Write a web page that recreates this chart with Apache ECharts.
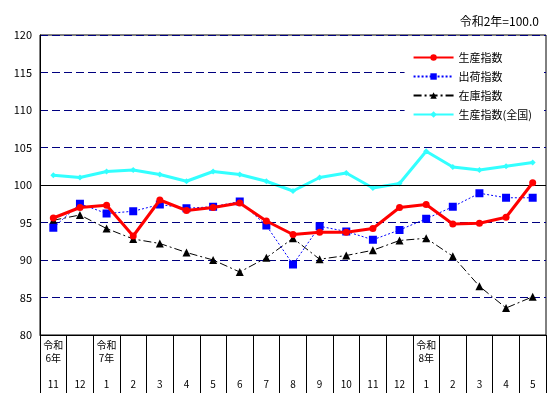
<!DOCTYPE html>
<html><head><meta charset="utf-8">
<script src="https://cdn.jsdelivr.net/npm/echarts@6/dist/echarts.min.js"></script>
<style>html,body{margin:0;padding:0;background:#fff}#c{width:550px;height:405px}</style>
</head><body><div id="c"></div>
<script>
const months = ['11', '12', '1', '2', '3', '4', '5', '6', '7', '8', '9', '10', '11', '12', '1', '2', '3', '4', '5'];
const yearLabels = {0: '令和\n6年', 2: '令和\n7年', 14: '令和\n8年'};
const production = [95.6, 97, 97.3, 93.2, 98, 96.6, 97, 97.6, 95.2, 93.4, 93.7, 93.7, 94.2, 97, 97.4, 94.8, 94.9, 95.7, 100.3];
const shipment = [94.3, 97.5, 96.2, 96.5, 97.4, 96.9, 97.1, 97.8, 94.6, 89.4, 94.5, 93.8, 92.7, 94, 95.5, 97.1, 98.9, 98.3, 98.3];
const inventory = [95.3, 96, 94.2, 92.8, 92.2, 91, 90, 88.4, 90.3, 92.9, 90.1, 90.6, 91.3, 92.6, 92.9, 90.5, 86.5, 83.6, 85.1];
const national = [101.3, 101, 101.8, 102, 101.4, 100.5, 101.8, 101.4, 100.5, 99.2, 101, 101.6, 99.6, 100.2, 104.5, 102.4, 102, 102.5, 103];

const chart = echarts.init(document.getElementById('c'));
const font = '"Noto Sans CJK JP", sans-serif';
chart.setOption({
  animation: false,
  textStyle: {fontFamily: font},
  title: {text: '令和2年=100.0', right: 6, top: 10, textStyle: {fontSize: 12, fontWeight: 'normal', color: '#000', fontFamily: font}},
  grid: {left: 40, right: 4, top: 35, bottom: 70, show: true, borderColor: '#000', borderWidth: 1},
  legend: {
    orient: 'vertical', right: 10, top: 48, itemWidth: 40, itemHeight: 8, itemGap: 8,
    backgroundColor: '#fff', padding: [4, 8], textStyle: {fontSize: 11, color: '#000'},
    data: ['生産指数', '出荷指数', '在庫指数', '生産指数(全国)']
  },
  xAxis: {
    type: 'category', data: months, boundaryGap: true,
    axisLine: {lineStyle: {color: '#000'}},
    axisTick: {show: true, interval: 0, length: 58, lineStyle: {color: '#000'}},
    axisLabel: {
      interval: 0, margin: 4, color: '#000', fontSize: 10, lineHeight: 13,
      formatter: (v, i) => (yearLabels[i] || '\n') + '\n\n' + v
    }
  },
  yAxis: {
    type: 'value', min: 80, max: 120, interval: 5,
    axisLine: {show: true, lineStyle: {color: '#000'}},
    axisTick: {show: false},
    axisLabel: {color: '#000', fontSize: 11, margin: 8},
    splitLine: {lineStyle: {color: '#000080', type: [8, 4]}}
  },
  series: [
    {name: '生産指数', type: 'line', data: production, z: 5, symbol: 'circle', symbolSize: 7,
      itemStyle: {color: '#ff0000'}, lineStyle: {width: 3, color: '#ff0000'},
      markLine: {silent: true, symbol: 'none', label: {show: false}, lineStyle: {color: '#000', type: 'solid', width: 1.2}, data: [{yAxis: 100}]}},
    {name: '出荷指数', type: 'line', data: shipment, z: 4, symbol: 'rect', symbolSize: 8,
      itemStyle: {color: '#0000ff'}, lineStyle: {width: 1, color: '#0000ff', type: [2, 2]}},
    {name: '在庫指数', type: 'line', data: inventory, z: 3, symbol: 'triangle', symbolSize: 8,
      itemStyle: {color: '#000'}, lineStyle: {width: 1, color: '#000', type: [8, 3, 2, 3]}},
    {name: '生産指数(全国)', type: 'line', data: national, z: 2, symbol: 'diamond', symbolSize: 6,
      itemStyle: {color: '#33ffff'}, lineStyle: {width: 3, color: '#33ffff'}}
  ]
});
</script></body></html>
